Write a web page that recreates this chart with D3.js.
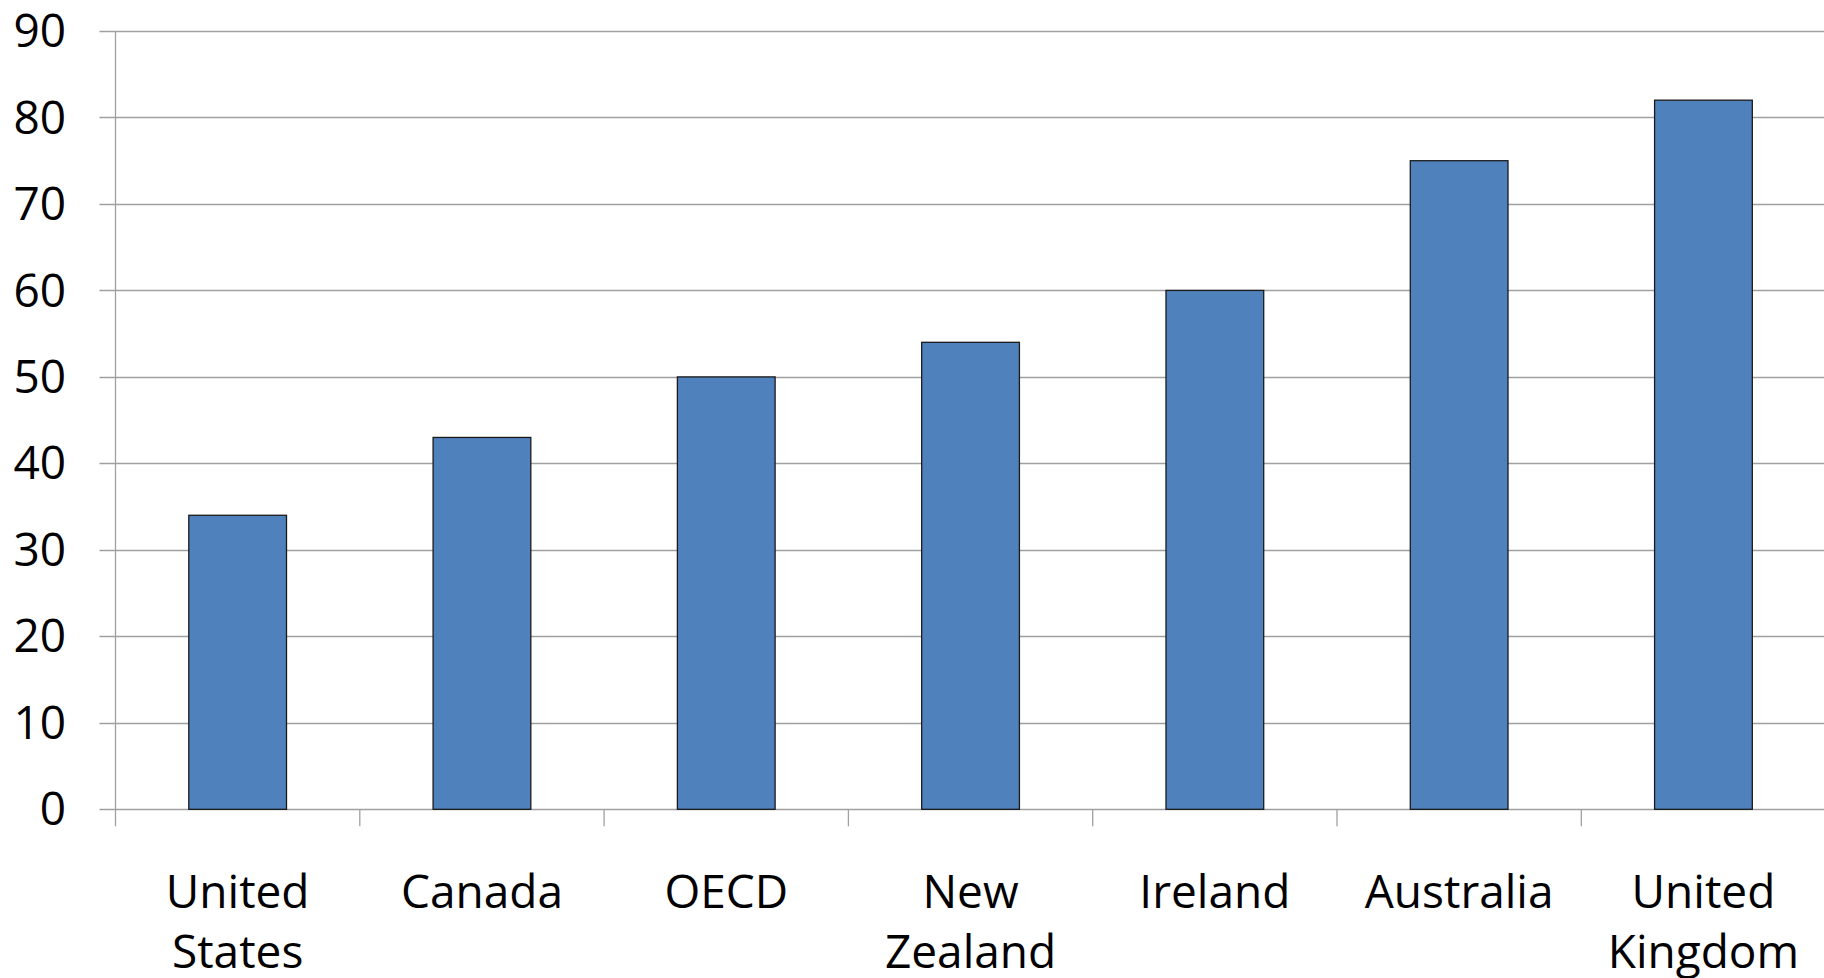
<!DOCTYPE html>
<html><head><meta charset="utf-8">
<script src="https://cdn.jsdelivr.net/npm/d3@7"></script>
<style>html,body{margin:0;padding:0;background:#fff;}svg{display:block;}</style>
</head><body>
<svg id="chart" width="1824" height="978"></svg>
<script>
const categories = [["United","States"],["Canada"],["OECD"],["New","Zealand"],["Ireland"],["Australia"],["United","Kingdom"]];
const values = [34, 43, 50, 54, 60, 75, 82];
const yTicks = [0,10,20,30,40,50,60,70,80,90];

(function(){
const svg = d3.select("#chart");
const pL = 115.5, pR = 115.5 + 7*244.3, pT = 31, pB = 809.3;
const font = "'Open Sans', sans-serif";
const keys = categories.map((c,i)=>i);
const x = d3.scaleBand().domain(keys).range([pL, pR]).paddingInner(0.6).paddingOuter(0.3);
const xOuter = d3.scaleBand().domain(keys).range([pL, pR]);
const y = d3.scaleLinear().domain([0,90]).range([pB, pT]);

svg.append("g").selectAll("line").data(yTicks).join("line")
  .attr("x1", pL-16).attr("x2", 1824)
  .attr("y1", d=>Math.round(y(d))+0.5).attr("y2", d=>Math.round(y(d))+0.5)
  .attr("stroke", "#a0a0a0").attr("stroke-width", 1.3);

svg.append("line").attr("x1", pL).attr("x2", pL).attr("y1", pT).attr("y2", pB+17)
  .attr("stroke", "#a0a0a0").attr("stroke-width", 1.3);

svg.append("g").selectAll("line").data(keys.slice(1)).join("line")
  .attr("x1", d=>xOuter(d)).attr("x2", d=>xOuter(d))
  .attr("y1", pB).attr("y2", pB+17)
  .attr("stroke", "#a0a0a0").attr("stroke-width", 1.3);

svg.append("g").selectAll("rect").data(values).join("rect")
  .attr("x", (d,i)=>x(i)).attr("width", x.bandwidth())
  .attr("y", d=>y(d)).attr("height", d=>pB - y(d))
  .attr("fill", "#4f81bd").attr("stroke", "#1a1a1a").attr("stroke-width", 1.3);

svg.append("g").selectAll("text").data(yTicks).join("text")
  .attr("x", 66).attr("y", d=>y(d)).attr("dy", "0.35em")
  .attr("text-anchor", "end").attr("font-family", font).attr("font-size", 46)
  .attr("fill", "#000").text(d=>d);

const xl = svg.append("g").selectAll("text").data(categories).join("text")
  .attr("x", (d,i)=>xOuter(i)+xOuter.bandwidth()/2).attr("y", 908)
  .attr("text-anchor", "middle").attr("font-family", font).attr("font-size", 46).attr("fill", "#000");
xl.selectAll("tspan").data(d=>d).join("tspan")
  .attr("x", function(){return this.parentNode.getAttribute("x");})
  .attr("dy", (d,j)=> j===0 ? 0 : 60).text(d=>d);
})();
</script>
</body></html>
